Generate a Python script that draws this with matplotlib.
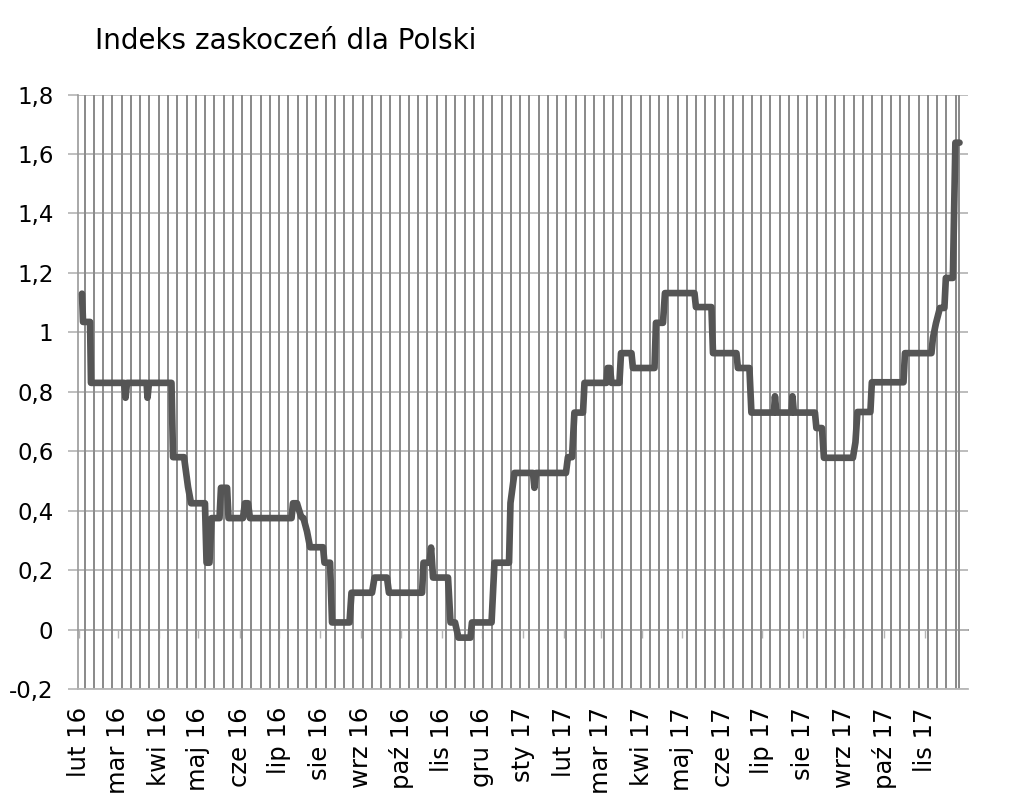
import matplotlib
matplotlib.use("Agg")
import matplotlib.pyplot as plt
import matplotlib.dates as mdates
import pandas as pd

# Dane: dni od 1 lutego 2016 i wartosci indeksu
start = pd.Timestamp("2016-02-01")
day_offsets = [
    2.0, 2.8, 8.1, 8.8, 33.8, 34.9, 36.0, 50.8, 51.5, 52.6,
    69.6, 70.8, 79.1, 82.1, 84.4, 94.9, 96.1, 98.3, 99.9, 105.9,
    107.0, 111.6, 112.7, 123.6, 125.1, 127.4, 128.9, 160.3, 161.4, 164.4,
    167.5, 169.3, 172.0, 174.3, 184.1, 185.2, 189.4, 190.9, 204.1, 205.6,
    221.1, 223.0, 232.4, 233.9, 258.9, 260.0, 264.5, 265.7, 267.2, 278.5,
    280.4, 283.8, 286.4, 295.5, 296.6, 311.4, 313.6, 324.6, 325.7, 328.7,
    342.7, 343.8, 345.0, 367.6, 369.1, 372.2, 374.0, 380.5, 381.6, 398.2,
    399.0, 400.9, 402.0, 408.0, 409.2, 417.1, 418.2, 434.5, 435.6, 440.9,
    442.4, 464.7, 465.8, 477.5, 478.7, 496.4, 497.5, 506.2, 507.7, 524.7,
    525.5, 526.6, 538.0, 538.7, 539.8, 555.7, 556.8, 561.0, 562.5, 584.4,
    586.3, 587.8, 597.6, 598.7, 622.6, 623.7, 643.7, 644.8, 647.1, 650.1,
    653.5, 654.6, 659.9, 661.8, 664.9,
]
index_values = [
    1.13, 1.035, 1.035, 0.83, 0.83, 0.78, 0.83, 0.83, 0.78, 0.83,
    0.83, 0.58, 0.58, 0.48, 0.425, 0.425, 0.225, 0.225, 0.375, 0.375,
    0.477, 0.477, 0.375, 0.375, 0.425, 0.425, 0.375, 0.375, 0.425, 0.425,
    0.38, 0.375, 0.33, 0.277, 0.277, 0.225, 0.225, 0.024, 0.024, 0.124,
    0.124, 0.175, 0.175, 0.124, 0.124, 0.225, 0.225, 0.276, 0.175, 0.175,
    0.024, 0.024, -0.027, -0.027, 0.024, 0.024, 0.225, 0.225, 0.426, 0.527,
    0.527, 0.477, 0.527, 0.527, 0.58, 0.58, 0.73, 0.73, 0.83, 0.83,
    0.88, 0.88, 0.83, 0.83, 0.93, 0.93, 0.88, 0.88, 1.032, 1.032,
    1.132, 1.132, 1.085, 1.085, 0.93, 0.93, 0.88, 0.88, 0.73, 0.73,
    0.785, 0.73, 0.73, 0.785, 0.73, 0.73, 0.678, 0.678, 0.578, 0.578,
    0.63, 0.732, 0.732, 0.832, 0.832, 0.93, 0.93, 0.98, 1.03, 1.082,
    1.082, 1.183, 1.183, 1.638, 1.638,
]

month_labels = [
    "lut 16", "mar 16", "kwi 16", "maj 16", "cze 16", "lip 16", "sie 16",
    "wrz 16", "paź 16", "lis 16", "gru 16", "sty 17", "lut 17", "mar 17",
    "kwi 17", "maj 17", "cze 17", "lip 17", "sie 17", "wrz 17", "paź 17",
    "lis 17",
]
y_ticks = [-0.2, 0, 0.2, 0.4, 0.6, 0.8, 1, 1.2, 1.4, 1.6, 1.8]
y_labels = ["-0,2", "0", "0,2", "0,4", "0,6", "0,8", "1", "1,2", "1,4", "1,6", "1,8"]

dates = start + pd.to_timedelta(day_offsets, unit="D")
month_starts = pd.date_range("2016-02-01", periods=len(month_labels), freq="MS")
weeks = list(pd.date_range("2016-02-05", "2017-11-24", freq="7D")) + [dates[-1]]

plt.rcParams["font.family"] = ["DejaVu Sans"]
fig = plt.figure(figsize=(10.23, 7.93), dpi=100)
ax = fig.add_axes([0.0760, 0.1311, 0.8702, 0.7497])

ax.plot(dates, index_values, color="#555555", linewidth=4.8,
        solid_joinstyle="round", solid_capstyle="round", zorder=5)

ax.set_xlim(start - pd.Timedelta(days=1.2), start + pd.Timedelta(days=671.3))
ax.set_ylim(-0.2, 1.8)

# os y
ax.set_yticks(y_ticks)
ax.set_yticklabels(y_labels)
ax.tick_params(axis="y", which="major", length=7, width=1.2, color="#b4b4b4",
               labelsize=16.5, pad=10.5)
ax.grid(axis="y", which="major", color="#b8b8b8", linewidth=1.3, zorder=1)

# pionowe linie siatki co tydzien
ax.vlines(mdates.date2num(weeks), -0.2, 1.8, color="#8c8c8c", linewidth=1.1,
          antialiased=False, zorder=2)

# os x - etykiety miesiecy na dole
ax.set_xticks(month_starts)
ax.set_xticklabels(month_labels, rotation=90, fontsize=17.5)
ax.tick_params(axis="x", which="both", length=0, pad=13)

for s in ["top", "right"]:
    ax.spines[s].set_visible(False)
ax.spines["bottom"].set_color("#b8b8b8")
ax.spines["bottom"].set_linewidth(1.3)
ax.spines["left"].set_color("#9a9a9a")
ax.spines["left"].set_linewidth(1.2)

# linia zera z kreskami miesiecy
zero_ax = ax.secondary_xaxis(0.1)
zero_ax.set_xticks(month_starts)
zero_ax.set_xticklabels([])
zero_ax.tick_params(length=6, width=1.0, color="#b4b4b4", direction="out")
zero_ax.spines["bottom"].set_color("#8f8f8f")
zero_ax.spines["bottom"].set_linewidth(1.3)

fig.text(95 / 1023, 1 - 41 / 793, "Indeks zaskoczeń dla Polski",
         fontsize=20, va="center", ha="left")

fig.savefig("out.png", dpi=100)
